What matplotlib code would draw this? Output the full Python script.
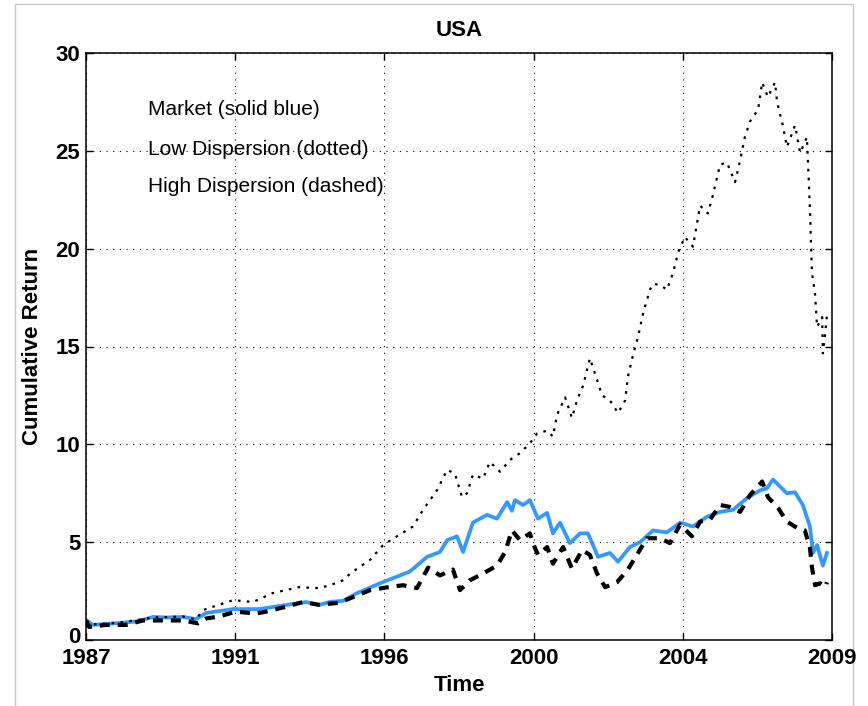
import matplotlib
matplotlib.use('Agg')
import matplotlib.pyplot as plt
import matplotlib.transforms as mtransforms
from matplotlib.patches import Rectangle

# Values (decimal years, cumulative return)
mkt_t = [1987.00, 1987.21, 1987.97, 1988.50, 1988.98, 1989.40, 1989.86, 1990.24, 1990.54,
         1991.34, 1992.10, 1992.90, 1993.49, 1993.87, 1994.20, 1994.58, 1995.00, 1995.67,
         1996.26, 1996.55, 1997.06, 1997.44, 1997.65, 1997.94, 1998.12, 1998.41, 1998.83,
         1999.12, 1999.42, 1999.56, 1999.65, 1999.89, 2000.09, 2000.33, 2000.60, 2000.77,
         2000.98, 2001.27, 2001.57, 2001.80, 2002.10, 2002.45, 2002.69, 2003.04, 2003.34,
         2003.72, 2004.13, 2004.52, 2004.90, 2005.31, 2005.70, 2006.08, 2006.49, 2006.88,
         2007.08, 2007.26, 2007.67, 2007.91, 2008.14, 2008.35, 2008.44, 2008.56, 2008.73,
         2008.85]
mkt_v = [1.02, 0.77, 0.87, 0.95, 1.18, 1.15, 1.18, 1.07, 1.38,
         1.58, 1.58, 1.79, 1.94, 1.79, 1.95, 2.00, 2.40, 2.90,
         3.30, 3.50, 4.25, 4.50, 5.10, 5.30, 4.50, 6.00, 6.40,
         6.20, 7.05, 6.60, 7.15, 6.90, 7.15, 6.20, 6.50, 5.45,
         6.00, 4.95, 5.45, 5.45, 4.25, 4.45, 4.00, 4.75, 5.00,
         5.60, 5.50, 6.00, 5.80, 6.30, 6.55, 6.65, 7.25, 7.65,
         7.75, 8.20, 7.50, 7.55, 6.90, 5.80, 4.45, 4.85, 3.80,
         4.45]

low_t = [1987.00, 1987.21, 1987.97, 1988.98, 1989.86, 1990.24, 1990.45, 1991.34, 1991.92,
         1992.51, 1993.28, 1993.87, 1994.20, 1994.61, 1994.79, 1995.38, 1995.76, 1996.17,
         1996.64, 1996.94, 1997.35, 1997.65, 1997.88, 1998.09, 1998.24, 1998.41, 1998.71,
         1998.91, 1999.21, 1999.50, 1999.80, 2000.09, 2000.30, 2000.60, 2000.77, 2000.89,
         2001.13, 2001.33, 2001.48, 2001.66, 2001.86, 2002.07, 2002.22, 2002.45, 2002.69,
         2002.90, 2002.98, 2003.13, 2003.28, 2003.43, 2003.63, 2003.72, 2003.93, 2004.13,
         2004.31, 2004.46, 2004.66, 2004.90, 2005.11, 2005.34, 2005.49, 2005.70, 2005.90,
         2006.14, 2006.29, 2006.43, 2006.58, 2006.82, 2006.94, 2007.11, 2007.32, 2007.38,
         2007.55, 2007.67, 2007.91, 2008.06, 2008.26, 2008.29, 2008.35, 2008.38, 2008.41,
         2008.50, 2008.56, 2008.71, 2008.73, 2008.79, 2008.85]
low_v = [1.00, 0.80, 0.88, 1.15, 1.20, 1.05, 1.53, 2.04, 1.94,
         2.40, 2.70, 2.65, 2.80, 3.07, 3.40, 4.10, 4.85, 5.30,
         5.80, 6.65, 7.65, 8.70, 8.50, 7.30, 7.50, 8.45, 8.25,
         9.10, 8.60, 9.20, 9.55, 10.05, 10.55, 10.70, 10.40, 11.50,
         12.40, 11.35, 12.25, 13.00, 14.40, 13.30, 12.50, 12.25, 11.60,
         12.25, 13.45, 14.55, 15.50, 16.70, 17.90, 18.20, 18.15, 17.90,
         18.75, 19.80, 20.60, 20.10, 22.20, 21.80, 22.75, 24.30, 24.40,
         23.40, 24.50, 25.70, 26.50, 27.10, 28.50, 27.75, 28.50, 27.50,
         26.30, 25.20, 26.30, 24.90, 25.70, 24.50, 22.00, 20.30, 18.75,
         17.70, 16.00, 16.50, 14.65, 15.50, 16.60]

high_t = [1987.00, 1987.09, 1987.59, 1988.18, 1988.68, 1989.27, 1989.86, 1990.30, 1990.54,
          1990.92, 1991.42, 1992.01, 1992.31, 1992.90, 1993.40, 1993.87, 1994.46, 1995.38,
          1995.91, 1996.35, 1996.76, 1997.09, 1997.44, 1997.82, 1998.03, 1998.32, 1998.71,
          1999.12, 1999.36, 1999.56, 1999.80, 2000.09, 2000.18, 2000.33, 2000.60, 2000.77,
          2001.07, 2001.33, 2001.63, 2001.86, 2002.07, 2002.31, 2002.66, 2002.98, 2003.28,
          2003.54, 2003.93, 2004.22, 2004.52, 2004.87, 2005.11, 2005.40, 2005.70, 2005.99,
          2006.29, 2006.58, 2006.94, 2007.11, 2007.41, 2007.67, 2008.00, 2008.20, 2008.35,
          2008.41, 2008.50, 2008.65, 2008.79, 2008.85]
high_v = [1.00, 0.67, 0.77, 0.77, 1.00, 1.00, 1.00, 0.85, 1.10,
          1.20, 1.45, 1.35, 1.45, 1.70, 1.94, 1.80, 1.90, 2.55,
          2.70, 2.80, 2.65, 3.70, 3.30, 3.60, 2.55, 3.05, 3.40,
          3.80, 4.50, 5.60, 5.10, 5.45, 4.95, 4.35, 4.75, 3.90,
          4.75, 3.65, 4.60, 4.35, 3.40, 2.70, 2.95, 3.60, 4.45,
          5.20, 5.20, 4.95, 5.90, 5.30, 6.05, 6.15, 6.90, 6.80,
          6.55, 7.40, 8.10, 7.30, 6.75, 6.05, 5.70, 5.60, 4.70,
          3.70, 2.80, 2.90, 2.70, 2.95]

tick_pos = [1987, 1991.4, 1995.8, 2000.2, 2004.6, 2009]
tick_lab = ['1987', '1991', '1996', '2000', '2004', '2009']

plt.rcParams['font.family'] = ['Liberation Sans', 'DejaVu Sans']

fig = plt.figure(figsize=(8.68, 7.06), dpi=100)
ax = fig.add_axes([86 / 868, 66 / 706, 746 / 868, 587 / 706])

ax.plot(mkt_t, mkt_v, color='#3399ff', lw=2.7, solid_joinstyle='round')
ax.plot(low_t, low_v, color='black', lw=1.6, linestyle=(0, (1.2, 2.8)))
ax.plot(high_t, high_v, color='black', lw=3.0, linestyle=(0, (2.4, 1.9)))

ax.set_xlim(1987, 2009)
ax.set_ylim(0, 30)
ax.set_xticks(tick_pos)
ax.set_xticklabels(tick_lab)
ax.set_yticks(range(0, 31, 5))
ax.tick_params(direction='in', length=5, width=1, top=True, right=True,
               labelsize=16, pad=4)
ax.tick_params(axis='x', pad=6)
for lab in ax.get_xticklabels() + ax.get_yticklabels():
    lab.set_fontweight('bold')
# nudge the "0" label up a little so it does not run into "1987"
zero_lab = ax.get_yticklabels()[0]
zero_lab.set_transform(zero_lab.get_transform() +
                       mtransforms.ScaledTranslation(0, 0.05, fig.dpi_scale_trans))
for s in ax.spines.values():
    s.set_linewidth(1.1)
ax.grid(True, color='black', lw=0.8, linestyle=(0, (1, 5)))

ax.set_title('USA', fontsize=16, fontweight='bold', pad=12)
ax.set_xlabel('Time', fontsize=16, fontweight='bold')
ax.set_ylabel('Cumulative Return', fontsize=16, fontweight='bold')
ax.xaxis.set_label_coords(0.5, -0.06)
ax.yaxis.set_label_coords(-0.058, 0.5)

ax.text(1988.83, 27.1, 'Market (solid blue)', fontsize=15, va='center')
ax.text(1988.83, 25.05, 'Low Dispersion (dotted)', fontsize=15, va='center')
ax.text(1988.83, 23.2, 'High Dispersion (dashed)', fontsize=15, va='center')

# light frame around the figure as in the reference image
fig.add_artist(Rectangle((15 / 868, -0.01), 838 / 868, 1.0043, transform=fig.transFigure,
                         fill=False, edgecolor='#c8c8c8', lw=1, zorder=-1))

fig.savefig('out.png', dpi=100)
